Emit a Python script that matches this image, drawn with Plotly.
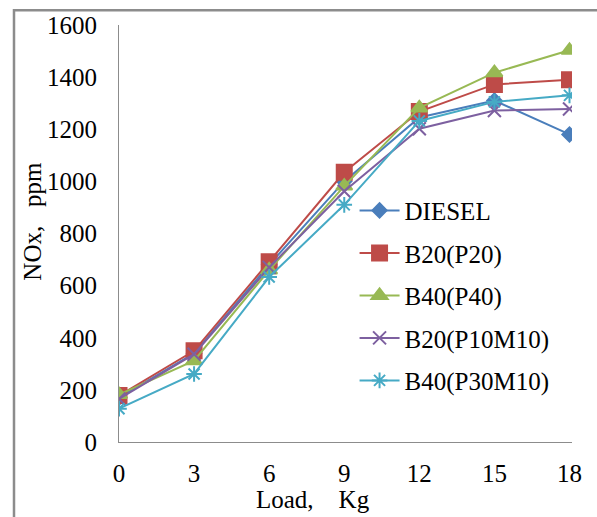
import plotly.graph_objects as go

loads = [0, 3, 6, 9, 12, 15, 18]
diesel = [170, 340, 680, 1000, 1245, 1310, 1180]
b20_p20 = [178, 350, 692, 1035, 1268, 1372, 1390]
b40_p40 = [182, 312, 660, 982, 1282, 1417, 1503]
b20_p10m10 = [165, 337, 670, 962, 1202, 1272, 1278]
b40_p30m10 = [128, 261, 633, 910, 1232, 1305, 1330]

names = ["DIESEL", "B20(P20)", "B40(P40)", "B20(P10M10)", "B40(P30M10)"]
series = [diesel, b20_p20, b40_p40, b20_p10m10, b40_p30m10]
colors = ["#4A7EBB", "#BE4B48", "#98B954", "#7D60A0", "#46AAC5"]
symbols = ["diamond", "square", "triangle-up", "x-thin-open", "asterisk-open"]
sizes = [11, 15, 14, 13, 13]

FONT = "Liberation Serif, Times New Roman, serif"

fig = go.Figure()
for i, (n, s) in enumerate(zip(names, series)):
    fig.add_trace(go.Scatter(
        x=loads, y=s, name=n, mode="lines+markers", legendgroup=n,
        line=dict(color=colors[i], width=2),
        marker=dict(symbol=symbols[i], size=sizes[i], color=colors[i],
                    line=dict(color=colors[i], width=2)),
    ))

fig.update_layout(
    width=597, height=517,
    margin=dict(l=119, r=25, t=20, b=75),
    paper_bgcolor="white", plot_bgcolor="white",
    font=dict(family=FONT, size=25, color="black"),
    showlegend=True,
    legend=dict(x=0.52, y=0.61, xanchor="left", yanchor="top",
                bgcolor="rgba(0,0,0,0)", font=dict(size=25),
                tracegroupgap=7, itemwidth=40),
    xaxis=dict(range=[0, 18.1], tickvals=[0, 3, 6, 9, 12, 15, 18],
               showgrid=False, zeroline=False, showline=True,
               linecolor="#8c8c8c", linewidth=1, ticks="",
               ticklabelstandoff=9, tickfont=dict(size=25)),
    yaxis=dict(range=[0, 1600], tickvals=list(range(0, 1601, 200)),
               showgrid=False, zeroline=False, showline=True,
               linecolor="#8c8c8c", linewidth=1, ticks="",
               ticklabelstandoff=16, tickfont=dict(size=25)),
    shapes=[dict(type="rect", xref="paper", yref="paper",
                 x0=-105/453, x1=1.2, y0=-0.3, y1=(442-5)/422,
                 line=dict(color="#8c8c8c", width=2.5), layer="below")],
    annotations=[
        dict(text="Load,\u00a0\u00a0\u00a0\u00a0Kg", xref="paper", yref="paper",
             x=(313-119)/453, y=(442-500)/422, xanchor="center", yanchor="middle",
             showarrow=False, font=dict(size=25)),
        dict(text="NOx,\u00a0\u00a0\u00a0ppm", xref="paper", yref="paper",
             x=(33-119)/453, y=(442-219)/422, xanchor="center", yanchor="middle",
             textangle=-90, showarrow=False, font=dict(size=25)),
    ],
)

fig.write_html("out.html")
